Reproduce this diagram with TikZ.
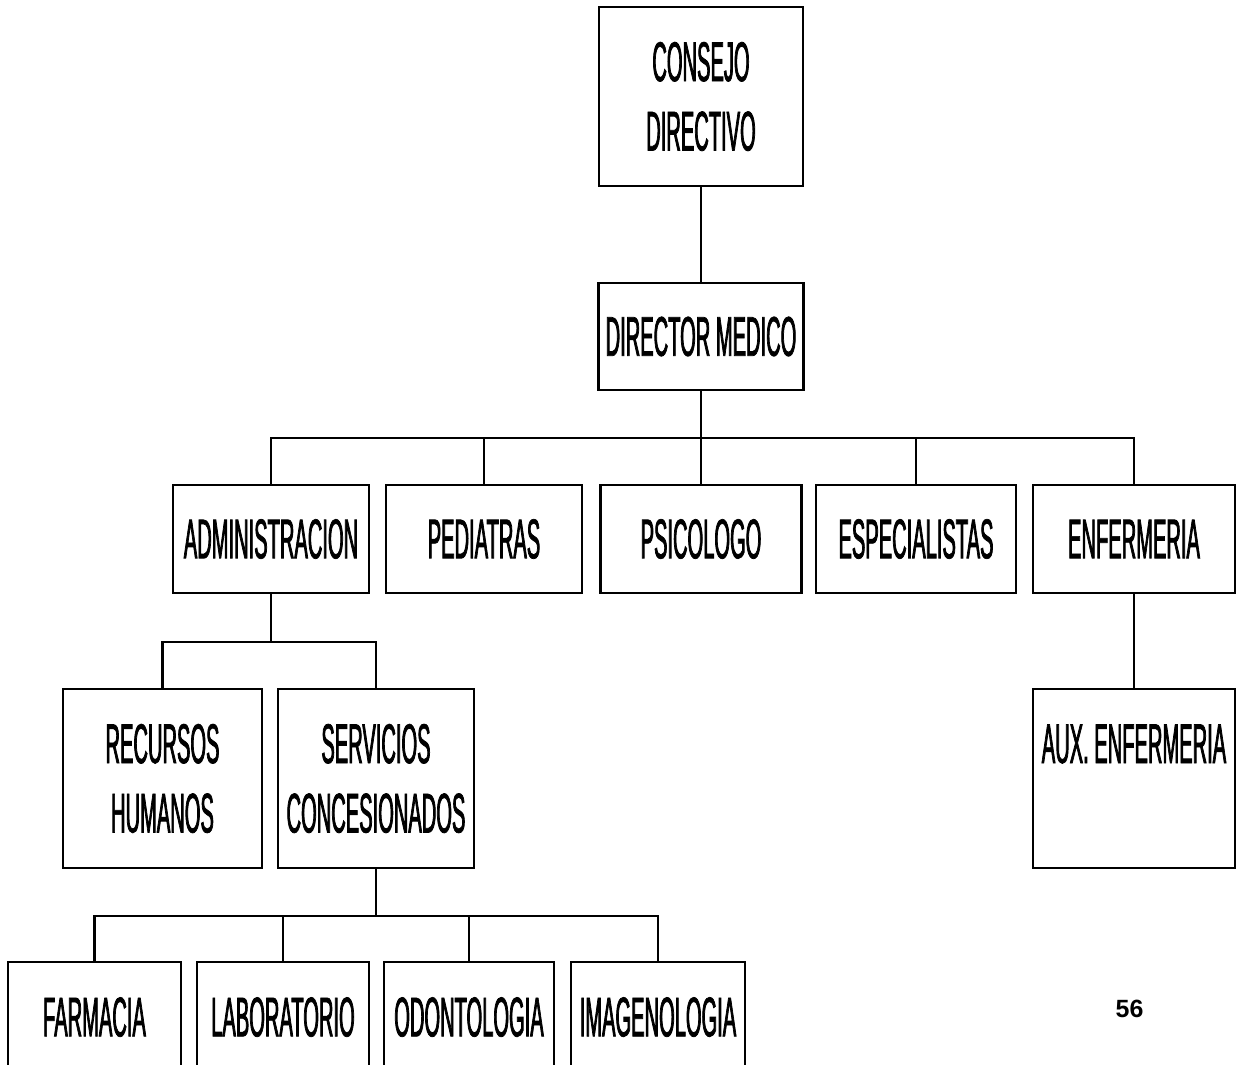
\documentclass[tikz,border=0pt]{standalone}
\usepackage{fontspec}
\newfontfamily\orgfont[FakeStretch=0.36,FakeBold=1.3]{Liberation Sans}
\newfontfamily\pagefont{Liberation Sans}

\begin{document}
\begin{tikzpicture}[x=0.02cm,y=-0.02cm,
  unit/.style={draw,line width=1.4pt,inner sep=0pt,align=center,
    font=\orgfont\fontsize{31.8}{39.5}\selectfont},
  link/.style={line width=1.3pt}]
\clip (0,0) rectangle (1242,1065);

% cabeza
\node[unit,minimum width=204*0.02cm,minimum height=179*0.02cm] (consejo) at (701,96.5) {CONSEJO\\DIRECTIVO};
\node[unit,minimum width=205*0.02cm,minimum height=107*0.02cm] (director) at (701,336.5) {DIRECTOR MEDICO};

% segundo nivel
\node[unit,minimum width=196*0.02cm,minimum height=108*0.02cm] (admin) at (271,539) {ADMINISTRACION};
\node[unit,minimum width=196*0.02cm,minimum height=108*0.02cm] (pediatras) at (484,539) {PEDIATRAS};
\node[unit,minimum width=201*0.02cm,minimum height=108*0.02cm] (psicologo) at (701,539) {PSICOLOGO};
\node[unit,minimum width=200*0.02cm,minimum height=108*0.02cm] (especialistas) at (916,539) {ESPECIALISTAS};
\node[unit,minimum width=202*0.02cm,minimum height=108*0.02cm] (enfermeria) at (1134,539) {ENFERMERIA};

% tercer nivel
\node[unit,minimum width=199*0.02cm,minimum height=179*0.02cm] (rrhh) at (162.5,778.5) {RECURSOS\\HUMANOS};
\node[unit,minimum width=196*0.02cm,minimum height=179*0.02cm] (servicios) at (376,778.5) {SERVICIOS\\CONCESIONADOS};
\node[unit,minimum width=202*0.02cm,minimum height=179*0.02cm] (aux) at (1134,778.5) {AUX. ENFERMERIA\\\mbox{}};

% servicios concesionados
\node[unit,minimum width=173*0.02cm,minimum height=179*0.02cm] (farmacia) at (94.5,1051.5) {FARMACIA\\\mbox{}};
\node[unit,minimum width=172*0.02cm,minimum height=179*0.02cm] (laboratorio) at (283,1051.5) {LABORATORIO\\\mbox{}};
\node[unit,minimum width=170*0.02cm,minimum height=179*0.02cm] (odontologia) at (469,1051.5) {ODONTOLOGIA\\\mbox{}};
\node[unit,minimum width=174*0.02cm,minimum height=179*0.02cm] (imagenologia) at (658,1051.5) {IMAGENOLOGIA\\\mbox{}};

\node[font=\pagefont\bfseries\fontsize{14.2}{16}\selectfont] (pagina) at (1129.5,1009) {56};

\draw[link] (consejo) -- (director);
\draw[link] (director.south) -- ++(0,47) coordinate (busA);
\foreach \n in {admin,pediatras,psicologo,especialistas,enfermeria}
  \draw[link] (\n.north) |- (busA);

\draw[link] (admin.south) -- ++(0,48) coordinate (busB);
\foreach \n in {rrhh,servicios}
  \draw[link] (\n.north) |- (busB);

\draw[link] (servicios.south) -- ++(0,47) coordinate (busC);
\foreach \n in {farmacia,laboratorio,odontologia,imagenologia}
  \draw[link] (\n.north) |- (busC);

\draw[link] (enfermeria) -- (aux);
\end{tikzpicture}
\end{document}
